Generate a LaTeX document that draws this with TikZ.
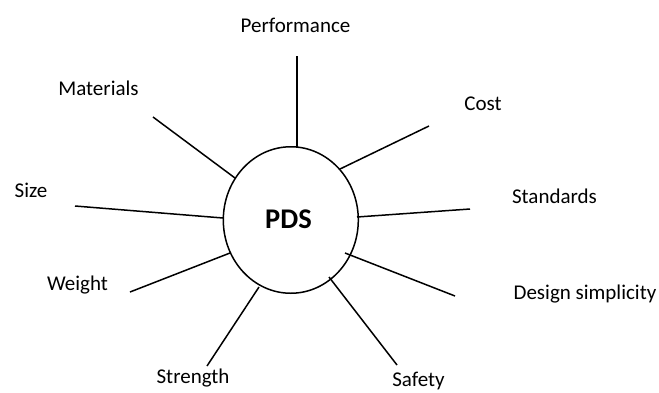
\documentclass[tikz,border=0pt]{standalone}
\usepackage{fontspec}
\setmainfont{Carlito}
\usetikzlibrary{shapes.geometric}
\begin{document}
\begin{tikzpicture}[x=1pt,y=-1pt,
  lbl/.style={inner sep=0pt,anchor=base,font=\fontsize{21}{25}\selectfont},
  spoke/.style={line width=1.5pt},
  hub/.style={draw,line width=1.5pt,ellipse,minimum width=135pt,minimum height=146.5pt,inner sep=0pt}]
\useasboundingbox (0,0) rectangle (659,392);
\node[hub] (pds) at (290.8,220) {};
\node[inner sep=0pt,anchor=base,font=\fontsize{28.5}{32}\selectfont\bfseries] (pdst) at (288.5,228) {PDS};
% labels
\node[lbl] (perf) at (295.5,32) {Performance};
\node[lbl] (mat) at (98.5,95) {Materials};
\node[lbl] (cost) at (483,110) {Cost};
\node[lbl] (std) at (554.5,203) {Standards};
\node[lbl] (des) at (585,299) {Design simplicity};
\node[lbl] (saf) at (418.5,386.5) {Safety};
\node[lbl] (str) at (193,383) {Strength};
\node[lbl] (wei) at (77.5,290) {Weight};
\node[lbl] (siz) at (31,197) {Size};
% spoke ends
\coordinate (perfA) at (297,147); \coordinate (perfB) at (297,56);
\coordinate (matA) at (235,178);  \coordinate (matB) at (153,117);
\coordinate (costA) at (340,169); \coordinate (costB) at (429,126);
\coordinate (stdA) at (357,217);  \coordinate (stdB) at (470,209);
\coordinate (desA) at (345,253);  \coordinate (desB) at (455,296);
\coordinate (safA) at (329,277);  \coordinate (safB) at (397,365);
\coordinate (strA) at (259,287);  \coordinate (strB) at (207,366);
\coordinate (weiA) at (230,253);  \coordinate (weiB) at (130,292);
\coordinate (sizA) at (223,218);  \coordinate (sizB) at (75,206);
\foreach \s in {perf,mat,cost,std,des,saf,str,wei,siz}
  \draw[spoke] (\s A) -- (\s B);
\end{tikzpicture}
\end{document}
